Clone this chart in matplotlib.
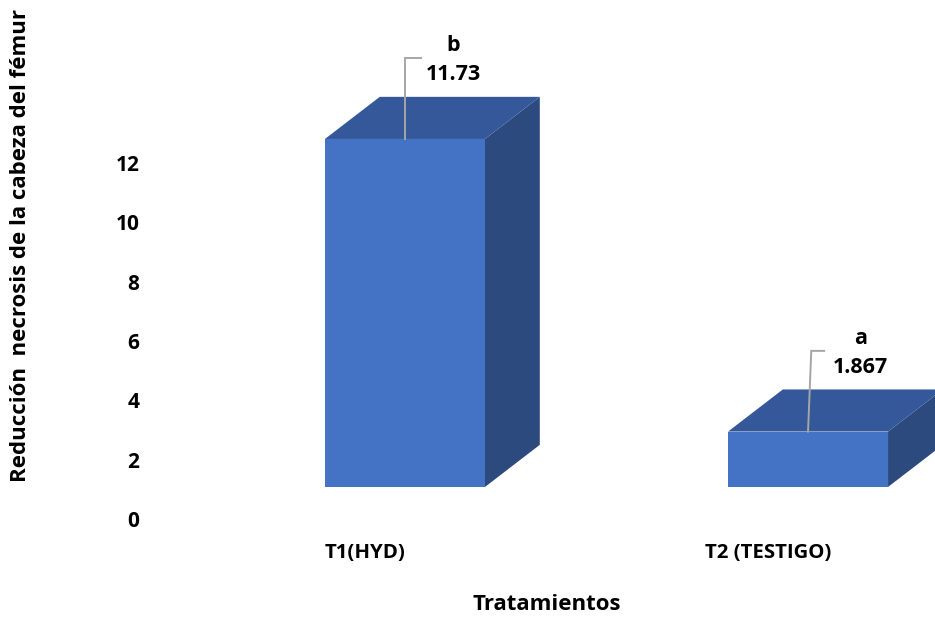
import numpy as np
import matplotlib
matplotlib.use("Agg")
from matplotlib import pyplot as plt
from matplotlib.patches import Polygon

plt.rcParams['font.family'] = ['Open Sans', 'DejaVu Sans']
plt.rcParams['font.weight'] = 'bold'

# data
treatments = ["T1(HYD)", "T2 (TESTIGO)"]
means = [11.73, 1.867]
value_labels = ["11.73", "1.867"]
letters = ["b", "a"]
yticks = [0, 2, 4, 6, 8, 10, 12]

# 3D look
front_col = '#4472C4'
top_col = '#34589A'
side_col = '#2C4A7E'
base = 1.08        # front face floor, in value units
depth_x = 0.136    # depth offset in category units
depth_y = 1.42     # depth offset in value units
width = 0.397

W, H = 935, 619
fig = plt.figure(figsize=(W / 100, H / 100), dpi=100)
ax = fig.add_axes([145 / W, 100 / H, 790 / W, 356 / H])
ax.set_xlim(-0.645, 1.315)
ax.set_ylim(0, 12)
for s in ax.spines.values():
    s.set_visible(False)
ax.set_xticks([])
ax.set_yticks(yticks)
ax.set_yticklabels([str(t) for t in yticks], fontsize=15, fontweight='bold')
ax.tick_params(axis='y', length=0, pad=4)

for i, v in enumerate(means):
    x0, x1 = i - width / 2, i + width / 2
    y0, y1 = base, base + v
    # side face
    ax.add_patch(Polygon([(x1, y0), (x1 + depth_x, y0 + depth_y), (x1 + depth_x, y1 + depth_y), (x1, y1)],
                         closed=True, facecolor=side_col, edgecolor='none', clip_on=False))
    # top face
    ax.add_patch(Polygon([(x0, y1), (x0 + depth_x, y1 + depth_y), (x1 + depth_x, y1 + depth_y), (x1, y1)],
                         closed=True, facecolor=top_col, edgecolor='none', clip_on=False))
    # front face
    ax.bar(i, v, width=width, bottom=base, color=front_col, edgecolor='none', clip_on=False)

    # leader line and labels
    corner_y = y1 + 2.72
    ax.plot([i, i + 0.008 * i, i + 0.04], [y1, corner_y, corner_y], color='#A6A6A6', lw=1.4,
            clip_on=False, solid_joinstyle='miter')
    tx = i + 0.12 + 0.01 * i
    ax.text(tx, corner_y + 0.42, letters[i], ha='center', va='center', fontsize=15.5, fontweight='bold')
    ax.text(tx, corner_y - 0.55, value_labels[i], ha='center', va='center', fontsize=15.5, fontweight='bold')

    # category label
    ax.text(i - 0.1, -1.15, treatments[i], ha='center', va='center', fontsize=14.7, fontweight='bold')

fig.text(547 / W, 1 - 604 / H, "Tratamientos", ha='center', va='center', fontsize=16, fontweight='bold')
fig.text(21 / W, 1 - 246 / H, "Reducción  necrosis de la cabeza del fémur", ha='center', va='center',
         rotation=90, fontsize=16, fontweight='bold')

fig.savefig("out.png", dpi=100)
